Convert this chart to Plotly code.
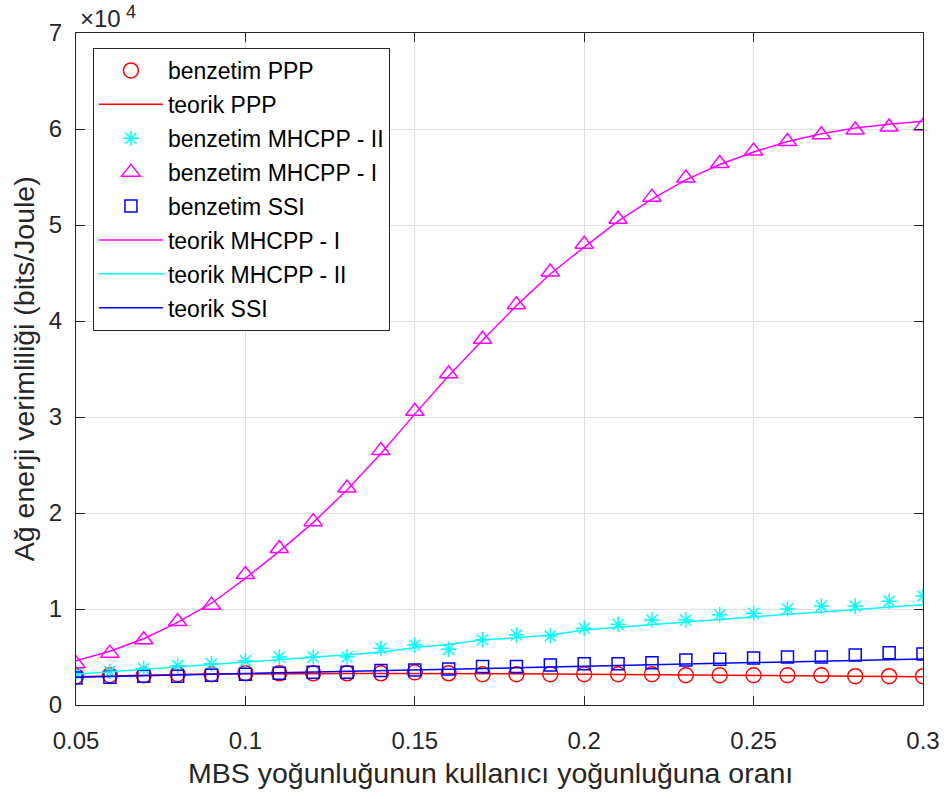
import plotly.graph_objects as go

x = [0.05, 0.06, 0.07, 0.08, 0.09, 0.10, 0.11, 0.12, 0.13, 0.14, 0.15, 0.16, 0.17,
     0.18, 0.19, 0.20, 0.21, 0.22, 0.23, 0.24, 0.25, 0.26, 0.27, 0.28, 0.29, 0.30]

# values in units of 1e4 bits/Joule
sim_ppp = [0.30, 0.31, 0.31, 0.32, 0.32, 0.33, 0.33, 0.33, 0.33, 0.33, 0.34, 0.33, 0.32,
           0.32, 0.32, 0.32, 0.32, 0.32, 0.31, 0.31, 0.31, 0.31, 0.31, 0.30, 0.30, 0.30]
th_ppp = [0.295, 0.305, 0.312, 0.318, 0.322, 0.325, 0.327, 0.328, 0.329, 0.329, 0.329, 0.328, 0.327,
          0.325, 0.323, 0.321, 0.319, 0.317, 0.315, 0.312, 0.310, 0.307, 0.304, 0.301, 0.298, 0.295]
sim_mhcpp2 = [0.33, 0.35, 0.38, 0.41, 0.43, 0.46, 0.50, 0.50, 0.50, 0.59, 0.625, 0.58, 0.68,
              0.73, 0.72, 0.80, 0.84, 0.885, 0.885, 0.94, 0.955, 1.00, 1.03, 1.03, 1.08, 1.135]
th_mhcpp2 = [0.32, 0.345, 0.37, 0.395, 0.42, 0.45, 0.475, 0.50, 0.525, 0.55, 0.60, 0.63, 0.68,
             0.70, 0.73, 0.78, 0.81, 0.84, 0.865, 0.89, 0.92, 0.945, 0.97, 0.995, 1.02, 1.045]
sim_mhcpp1 = [0.43, 0.54, 0.68, 0.87, 1.04, 1.36, 1.63, 1.91, 2.26, 2.65, 3.06, 3.45, 3.81,
              4.17, 4.51, 4.80, 5.06, 5.29, 5.49, 5.64, 5.77, 5.87, 5.94, 5.99, 6.02, 6.03]
th_mhcpp1 = [0.46, 0.56, 0.69, 0.86, 1.06, 1.32, 1.60, 1.90, 2.24, 2.62, 3.03, 3.43, 3.80,
             4.16, 4.49, 4.77, 5.04, 5.27, 5.47, 5.63, 5.76, 5.87, 5.95, 6.01, 6.05, 6.08]
sim_ssi = [0.28, 0.29, 0.30, 0.30, 0.31, 0.32, 0.33, 0.34, 0.34, 0.36, 0.365, 0.375, 0.40,
           0.40, 0.417, 0.43, 0.43, 0.44, 0.47, 0.476, 0.49, 0.50, 0.50, 0.52, 0.545, 0.53]
th_ssi = [0.29, 0.297, 0.304, 0.311, 0.318, 0.325, 0.332, 0.339, 0.346, 0.353, 0.36, 0.367, 0.38,
          0.388, 0.396, 0.404, 0.412, 0.42, 0.428, 0.436, 0.444, 0.452, 0.46, 0.467, 0.474, 0.48]

scale = 1e4
xticks = [0.05, 0.10, 0.15, 0.20, 0.25, 0.30]
xticktext = ["0.05", "0.1", "0.15", "0.2", "0.25", "0.3"]
yticks = [0, 1, 2, 3, 4, 5, 6, 7]

RED, CYAN, MAG, BLUE = "#FF0000", "#00FFFF", "#FF00FF", "#0000FF"

def sc(v):
    return [a * scale for a in v]

fig = go.Figure()
traces = [
    ("benzetim PPP", sim_ppp, "markers", RED, "circle-open", 15),
    ("teorik PPP", th_ppp, "lines", RED, None, None),
    ("benzetim MHCPP - II", sim_mhcpp2, "markers", CYAN, "asterisk-open", 13),
    ("benzetim MHCPP - I", sim_mhcpp1, "markers", MAG, "triangle-up-open", 16),
    ("benzetim SSI", sim_ssi, "markers", BLUE, "square-open", 12),
    ("teorik MHCPP - I", th_mhcpp1, "lines", MAG, None, None),
    ("teorik MHCPP - II", th_mhcpp2, "lines", CYAN, None, None),
    ("teorik SSI", th_ssi, "lines", BLUE, None, None),
]
for i, (name, vals, mode, col, sym, size) in enumerate(traces):
    if mode == "markers":
        fig.add_trace(go.Scatter(x=x, y=sc(vals), mode="markers", name=name,
                                 legendgroup=f"g{i}",
                                 marker=dict(symbol=sym, size=size, color=col,
                                             line=dict(color=col, width=1.5))))
    else:
        fig.add_trace(go.Scatter(x=x, y=sc(vals), mode="lines", name=name,
                                 legendgroup=f"g{i}",
                                 line=dict(color=col, width=1.5)))

axcol = "#262626"
fig.update_layout(
    width=952, height=799,
    margin=dict(l=76, r=26, t=33, b=94),
    paper_bgcolor="white", plot_bgcolor="white",
    font=dict(family="Liberation Sans, Arial, Helvetica, sans-serif", color=axcol, size=22),
    showlegend=True,
    legend=dict(x=0.02, y=0.9777, xanchor="left", yanchor="top",
                bgcolor="white", bordercolor=axcol, borderwidth=1,
                font=dict(size=23, color="black"), tracegroupgap=1,
                itemwidth=64, traceorder="grouped"),
    xaxis=dict(range=[0.05, 0.30], tickvals=xticks, ticktext=xticktext,
               showgrid=True, gridcolor="#DFDFDF", gridwidth=1,
               showline=True, linecolor=axcol, linewidth=1, mirror="allticks",
               ticks="inside", ticklen=9, tickcolor=axcol, ticklabelstandoff=14,
               tickfont=dict(size=24, color=axcol), zeroline=False),
    yaxis=dict(range=[0, 7 * scale], tickvals=[t * scale for t in yticks],
               ticktext=[str(t) for t in yticks],
               showgrid=True, gridcolor="#DFDFDF", gridwidth=1,
               showline=True, linecolor=axcol, linewidth=1, mirror="allticks",
               ticks="inside", ticklen=9, tickcolor=axcol, ticklabelstandoff=8,
               tickfont=dict(size=24, color=axcol), zeroline=False),
    annotations=[
        dict(text="MBS yoğunluğunun kullanıcı yoğunluğuna oranı", xref="paper", yref="paper",
             x=0.4894, y=-0.101, xanchor="center", yanchor="middle", showarrow=False,
             font=dict(size=28.5, color=axcol)),
        dict(text="Ağ enerji verimliliği (bits/Joule)", xref="paper", yref="paper",
             x=-0.0612, y=0.5, xanchor="center", yanchor="middle", showarrow=False,
             textangle=-90, font=dict(size=28.5, color=axcol)),
        dict(text="×10", xref="paper", yref="paper",
             x=0.0024, y=1.0216, xanchor="left", yanchor="middle", showarrow=False,
             font=dict(size=24, color=axcol)),
        dict(text="4", xref="paper", yref="paper",
             x=0.0565, y=1.049, xanchor="left", yanchor="top", showarrow=False,
             font=dict(size=18, color=axcol)),
    ],
)

fig.write_html("out.html")
